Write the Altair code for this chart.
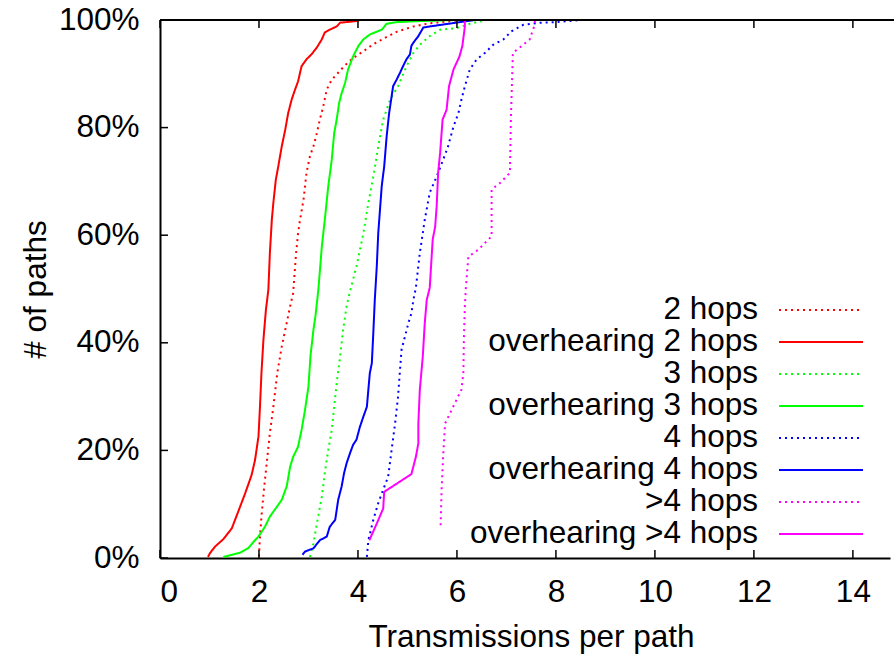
import altair as alt
import pandas as pd

FONT = "Liberation Sans"
FS = 31.5

# ---- series definitions -------------------------------------------------
series_names = [
    "2 hops", "overhearing 2 hops",
    "3 hops", "overhearing 3 hops",
    "4 hops", "overhearing 4 hops",
    ">4 hops", "overhearing >4 hops",
]
series_colors = ["#ff0000", "#ff0000", "#00ff00", "#00ff00",
                 "#0000ff", "#0000ff", "#ff00ff", "#ff00ff"]
series_dashes = [[2, 4], [1, 0], [2, 4], [1, 0],
                 [2, 4], [1, 0], [2, 4], [1, 0]]

# ---- CDF points: transmissions per path (x) vs. cumulative % of paths (y)
hops2_x = [2.00, 2.02, 2.05, 2.10, 2.17, 2.22, 2.29, 2.37, 2.46, 2.56, 2.63,
           2.69, 2.75, 2.79, 2.83, 2.90, 2.96, 3.03, 3.10, 3.17, 3.23, 3.30,
           3.37, 3.47, 3.60, 3.74, 3.90, 4.11, 4.31, 4.51, 4.78, 5.12, 5.45,
           5.90, 6.10]
hops2_y = [0.3, 4.0, 7.7, 12.7, 18.8, 23.2, 28.1, 34.4, 39.3, 43.7, 46.8,
           49.2, 56.7, 60.4, 62.9, 66.6, 71.6, 74.7, 76.5, 79.0, 81.5, 84.0,
           87.1, 88.9, 90.2, 91.6, 92.9, 94.2, 95.5, 96.5, 97.8, 98.8, 99.4,
           99.8, 100.0]

ovh2_x = [0.97, 1.01, 1.11, 1.28, 1.45, 1.58, 1.72, 1.85, 1.92, 1.99, 2.02,
          2.05, 2.09, 2.14, 2.19, 2.22, 2.26, 2.29, 2.34, 2.39, 2.46, 2.53,
          2.59, 2.66, 2.73, 2.79, 2.86, 2.96, 3.06, 3.17, 3.27, 3.33, 3.43,
          3.57, 3.64, 3.97, 4.04]
ovh2_y = [0.2, 0.9, 2.1, 3.5, 5.5, 8.6, 12.0, 15.4, 18.2, 22.6, 28.1,
          34.4, 40.6, 46.1, 49.9, 56.7, 62.9, 66.0, 70.3, 72.8, 76.5, 79.6,
          82.7, 85.2, 87.1, 88.6, 91.4, 92.7, 93.6, 94.9, 96.4, 97.7, 98.2,
          98.8, 99.5, 99.8, 100.0]

hops3_x = [3.03, 3.10, 3.17, 3.27, 3.33, 3.40, 3.47, 3.52, 3.57, 3.64, 3.70,
           3.77, 3.84, 3.97, 4.11, 4.21, 4.31, 4.41, 4.51, 4.65, 4.81, 4.98,
           5.12, 5.25, 5.45, 5.66, 6.00, 6.26, 6.50]
hops3_y = [0.2, 2.7, 6.4, 11.4, 15.8, 20.1, 23.8, 28.1, 32.5, 37.5, 42.4,
           46.8, 49.6, 54.2, 60.4, 66.0, 70.9, 76.5, 81.5, 85.2, 87.7, 91.4,
           93.9, 95.4, 97.0, 98.2, 98.5, 99.3, 99.8]

ovh3_x = [1.28, 1.62, 1.78, 1.89, 1.99, 2.12, 2.22, 2.36, 2.46, 2.56, 2.63,
          2.69, 2.79, 2.86, 2.93, 3.00, 3.04, 3.10, 3.14, 3.20, 3.27, 3.33,
          3.40, 3.47, 3.52, 3.57, 3.62, 3.67, 3.74, 3.80, 3.90, 4.01, 4.11,
          4.24, 4.48, 4.58, 4.78, 5.25, 6.00]
ovh3_y = [0.2, 1.0, 1.8, 3.0, 4.0, 5.8, 7.7, 9.5, 10.8, 13.3, 17.0,
          18.8, 20.7, 23.8, 27.5, 31.9, 37.5, 42.4, 44.9, 49.9, 57.9, 62.9,
          69.1, 74.0, 79.0, 81.5, 84.6, 86.4, 88.3, 90.8, 93.2, 95.2, 96.4,
          97.3, 98.2, 99.3, 99.6, 99.8, 100.0]

hops4_x = [4.18, 4.21, 4.31, 4.41, 4.51, 4.61, 4.68, 4.75, 4.81, 4.85, 4.88,
           4.95, 5.02, 5.08, 5.12, 5.17, 5.25, 5.35, 5.45, 5.59, 5.72, 5.82,
           5.93, 6.03, 6.09, 6.16, 6.26, 6.40, 6.57, 6.73, 6.94, 7.10, 7.34,
           7.68, 8.01, 8.48]
hops4_y = [0.2, 3.3, 7.1, 10.2, 12.7, 15.1, 20.1, 25.0, 30.0, 35.0, 38.7,
           41.2, 43.7, 45.5, 48.0, 50.2, 56.7, 62.9, 67.9, 70.9, 74.0, 76.5,
           80.2, 82.7, 85.2, 87.7, 90.8, 92.7, 93.9, 95.4, 96.4, 97.9, 99.1,
           99.5, 99.6, 100.0]

ovh4_x = [2.88, 2.93, 3.10, 3.23, 3.37, 3.43, 3.54, 3.57, 3.60, 3.67, 3.72,
          3.77, 3.84, 3.90, 3.97, 4.04, 4.11, 4.18, 4.21, 4.24, 4.28, 4.31,
          4.34, 4.38, 4.41, 4.48, 4.53, 4.58, 4.63, 4.68, 4.71, 4.78, 4.85,
          4.91, 4.98, 5.05, 5.08, 5.12, 5.22, 5.32, 5.45, 6.36]
ovh4_y = [0.6, 1.2, 1.8, 3.3, 4.0, 5.8, 7.1, 8.9, 10.8, 13.3, 15.8,
          17.6, 19.5, 21.0, 22.0, 24.4, 26.3, 28.1, 31.3, 34.4, 36.2, 41.8,
          48.0, 54.2, 60.4, 69.1, 72.8, 78.4, 82.7, 85.8, 87.7, 88.9, 90.2,
          91.4, 92.7, 93.6, 95.2, 95.8, 97.0, 98.6, 98.8, 100.0]

hops5_x = [5.67, 5.69, 5.72, 5.76, 5.86, 5.96, 6.09, 6.13, 6.14, 6.16, 6.18,
           6.23, 6.43, 6.70, 6.70, 6.87, 7.07, 7.09, 7.13, 7.27, 7.47, 7.56,
           7.58]
hops5_y = [6.1, 12.7, 18.8, 25.0, 26.9, 28.8, 31.3, 34.4, 40.6, 46.8, 50.2,
           56.0, 57.3, 59.8, 68.5, 69.7, 71.6, 81.5, 93.9, 94.9, 96.4, 98.8,
           100.0]

ovh5_x = [4.23, 4.38, 4.51, 4.53, 5.08, 5.17, 5.22, 5.22, 5.25, 5.31, 5.35,
          5.39, 5.45, 5.51, 5.56, 5.59, 5.62, 5.66, 5.71, 5.79, 5.84, 5.93,
          6.05, 6.11, 6.16, 6.16]
ovh5_y = [3.3, 6.4, 9.2, 12.3, 15.6, 18.8, 21.3, 25.0, 31.3, 37.5, 43.7,
          48.0, 50.2, 59.2, 61.6, 65.4, 71.6, 75.3, 81.5, 83.3, 87.7, 90.8,
          93.2, 95.2, 98.8, 100.0]

x_ticks = [0, 2, 4, 6, 8, 10, 12, 14]
y_ticks = [0, 20, 40, 60, 80, 100]

# ---- long table -----------------------------------------------------------
series_points = [
    (hops2_x, hops2_y), (ovh2_x, ovh2_y),
    (hops3_x, hops3_y), (ovh3_x, ovh3_y),
    (hops4_x, hops4_y), (ovh4_x, ovh4_y),
    (hops5_x, hops5_y), (ovh5_x, ovh5_y),
]
rows = []
for name, (xs, ys) in zip(series_names, series_points):
    for i, (xv, yv) in enumerate(zip(xs, ys)):
        rows.append({"series": name, "x": xv, "pct": yv, "idx": i})
df = pd.DataFrame(rows)

W, H = 730, 538
x_scale = alt.Scale(domain=[0, 14.75], nice=False, zero=False)
y_scale = alt.Scale(domain=[0, 100], nice=False)
color_scale = alt.Scale(domain=series_names, range=series_colors)
dash_scale = alt.Scale(domain=series_names, range=series_dashes)

x_axis = alt.Axis(
    values=x_ticks, format="d", grid=False, ticks=False,
    domainColor="black", domainWidth=2,
    labelFont=FONT, labelFontSize=FS, labelColor="black",
    labelBaseline="alphabetic", labelPadding=43,
    title="Transmissions per path", titleFont=FONT, titleFontSize=FS,
    titleFontWeight="normal", titleColor="black",
    titleX=371, titleY=88, titleBaseline="alphabetic", titleAlign="center",
)
y_axis = alt.Axis(
    values=y_ticks, grid=False, ticks=False,
    labelExpr="datum.value + '%'",
    domainColor="black", domainWidth=2,
    labelFont=FONT, labelFontSize=FS, labelColor="black", labelPadding=21,
    title="# of paths", titleFont=FONT, titleFontSize=FS,
    titleFontWeight="normal", titleColor="black",
    titleX=-124, titleY=269, titleBaseline="middle", titleAlign="center",
)

lines = alt.Chart(df).mark_line(strokeWidth=2, clip=True).encode(
    x=alt.X("x:Q", scale=x_scale, axis=x_axis),
    y=alt.Y("pct:Q", scale=y_scale, axis=y_axis),
    color=alt.Color("series:N", scale=color_scale, legend=None),
    strokeDash=alt.StrokeDash("series:N", scale=dash_scale, legend=None),
    order=alt.Order("idx:Q"),
)

# inward tick marks on the bottom, top and left edges, plus the top border
xt = pd.DataFrame({"t": x_ticks})
yt = pd.DataFrame({"t": y_ticks})
tick_x = alt.X("t:Q", scale=x_scale, axis=x_axis)
tick_y = alt.Y("t:Q", scale=y_scale, axis=None)
bottom_ticks = alt.Chart(xt).mark_rule(color="black", strokeWidth=1.5).encode(
    x=tick_x, y=alt.value(H), y2=alt.value(H - 8))
top_ticks = alt.Chart(xt).mark_rule(color="black", strokeWidth=1.5).encode(
    x=tick_x, y=alt.value(0), y2=alt.value(8))
left_ticks = alt.Chart(yt).mark_rule(color="black", strokeWidth=1.5).encode(
    y=tick_y, x=alt.value(0), x2=alt.value(8))
top_border = alt.Chart(xt).mark_rule(color="black", strokeWidth=2).encode(
    x=alt.value(0), x2=alt.value(W + 10), y=alt.value(0))

# key: right-aligned labels with line samples to their right
key_df = pd.DataFrame({"series": series_names})
key_rows = alt.Scale(type="point", domain=series_names, range=[290, 514], padding=0)
key_text = alt.Chart(key_df).mark_text(
    align="right", baseline="middle", font=FONT, fontSize=FS, color="black"
).encode(
    x=alt.value(598),
    y=alt.Y("series:N", scale=key_rows, axis=None),
    text="series:N",
)
key_lines = alt.Chart(key_df).mark_rule(strokeWidth=2).encode(
    x=alt.value(619), x2=alt.value(703),
    y=alt.Y("series:N", scale=key_rows, axis=None),
    color=alt.Color("series:N", scale=color_scale, legend=None),
    strokeDash=alt.StrokeDash("series:N", scale=dash_scale, legend=None),
)

chart = alt.layer(
    lines, bottom_ticks, top_ticks, left_ticks, top_border, key_text, key_lines
).resolve_scale(y="independent").properties(
    width=W, height=H,
    autosize=alt.AutoSizeParams(type="none"),
    padding={"left": 160, "top": 20, "right": 4, "bottom": 100},
    background="white",
).configure_view(strokeWidth=0)

chart.save("out.html", embed_options={"renderer": "svg", "actions": False})
